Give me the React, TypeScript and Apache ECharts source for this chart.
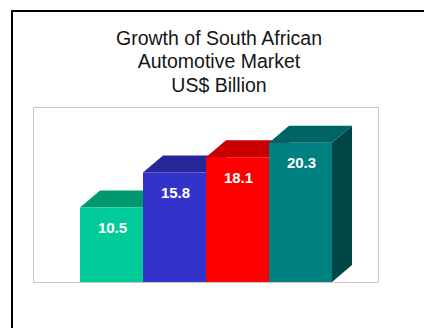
import React, { useEffect, useRef } from "react";
import * as echarts from "echarts";

const titleLines = ["Growth of South African", "Automotive Market", "US$ Billion"];
const categories = ["A", "B", "C", "D"];
const values = [10.5, 15.8, 18.1, 20.3];
const labels = ["10.5", "15.8", "18.1", "20.3"];
const frontColors = ["#00CC99", "#3333CC", "#FF0000", "#008080"];
const topColors = ["#00996F", "#262699", "#C80000", "#006464"];
const sideColors = ["#007755", "#1E1E80", "#990000", "#004646"];

export default function App() {
  const ref = useRef<HTMLDivElement>(null);
  useEffect(() => {
    if (!ref.current) return;
    const chart = echarts.init(ref.current, undefined, { renderer: "svg" });
    const DX = 20;
    const DY = 17;
    const yMin = -0.8;
    chart.setOption({
      animation: false,
      backgroundColor: "#ffffff",
      graphic: [
        {
          type: "rect",
          shape: { x: 12, y: 11, width: 600, height: 600 },
          style: { fill: "none", stroke: "#000000", lineWidth: 2 },
          z: 0,
        },
        {
          type: "rect",
          shape: { x: 33.5, y: 107.5, width: 345, height: 175 },
          style: { fill: "#ffffff", stroke: "#c8c8c8", lineWidth: 1 },
          z: -1,
        },
        {
          type: "text",
          x: 219,
          y: 26,
          z: 5,
          style: {
            text: titleLines.join("\n"),
            font: "19.5px Liberation Sans, Arial, sans-serif",
            lineHeight: 23.5,
            fill: "#151515",
            align: "center",
            verticalAlign: "top",
          },
        },
      ],
      grid: { left: 80, top: 107, width: 252, height: 175 },
      xAxis: {
        type: "category",
        data: categories,
        show: false,
        boundaryGap: true,
      },
      yAxis: {
        type: "value",
        min: yMin,
        max: 25.7,
        show: false,
        splitLine: { show: false },
      },
      series: [
        {
          type: "custom",
          data: values.map((v, i) => [i, v]),
          renderItem: (params: any, api: any) => {
            const idx = api.value(0);
            const val = api.value(1);
            const top = api.coord([idx, val]);
            const base = api.coord([idx, yMin]);
            const w = api.size([1, 0])[0];
            const x0 = top[0] - w / 2;
            const x1 = top[0] + w / 2;
            const yT = top[1];
            const yB = base[1];
            const i = params.dataIndex;
            return {
              type: "group",
              children: [
                {
                  type: "polygon",
                  shape: {
                    points: [
                      [x1, yT],
                      [x1 + DX, yT - DY],
                      [x1 + DX, yB - DY],
                      [x1, yB],
                    ],
                  },
                  style: { fill: sideColors[i] },
                },
                {
                  type: "polygon",
                  shape: {
                    points: [
                      [x0, yT],
                      [x0 + DX, yT - DY],
                      [x1 + DX, yT - DY],
                      [x1, yT],
                    ],
                  },
                  style: { fill: topColors[i] },
                },
                {
                  type: "rect",
                  shape: { x: x0, y: yT, width: x1 - x0, height: yB - yT },
                  style: { fill: frontColors[i] },
                },
                {
                  type: "text",
                  x: (x0 + x1) / 2 + 1,
                  y: yT + 20,
                  style: {
                    text: labels[i],
                    fill: "#ffffff",
                    font: "bold 15px Liberation Sans, Arial, sans-serif",
                    align: "center",
                    verticalAlign: "middle",
                  },
                },
              ],
            };
          },
        },
      ],
    });
    return () => chart.dispose();
  }, []);
  return (
    <div
      ref={ref}
      style={{ position: "fixed", left: 0, top: 0, width: 424, height: 328 }}
    />
  );
}
